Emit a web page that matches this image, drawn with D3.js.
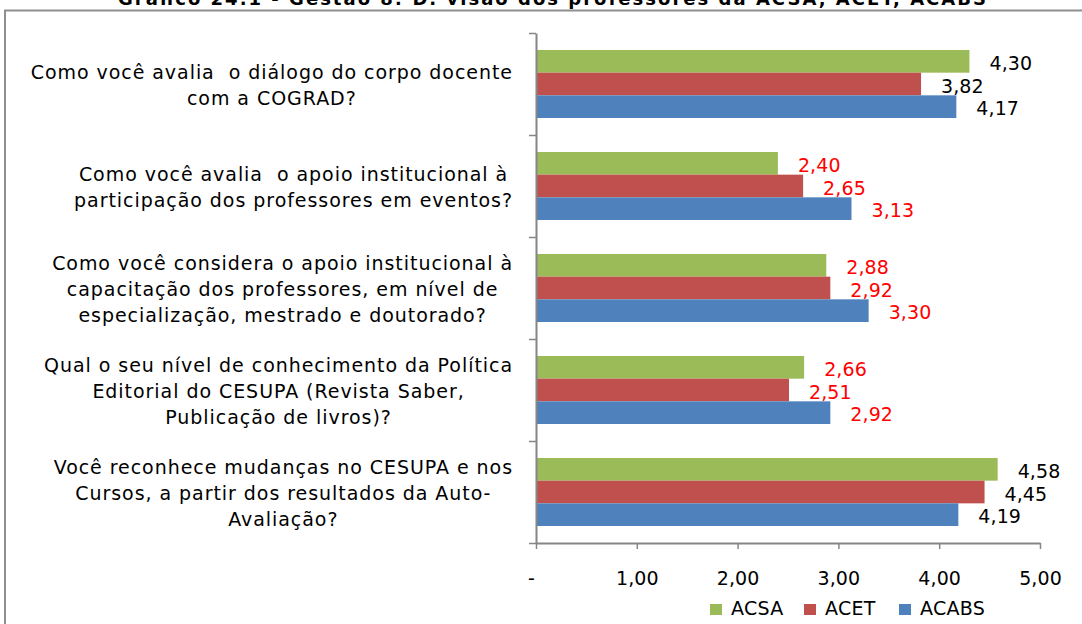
<!DOCTYPE html>
<html>
<head>
<meta charset="utf-8">
<script src="https://cdn.jsdelivr.net/npm/d3@7"></script>
<style>
  html, body { margin: 0; padding: 0; background: #fff; overflow: hidden; }
  svg { display: block; font-family: "DejaVu Sans", Verdana, sans-serif; }
</style>
</head>
<body>
<svg id="chart" width="1082" height="624"></svg>
<script>
// ---- data ----
const chartTitle = "Gráfico 24.1 - Gestão 8: D. visão dos professores da ACSA, ACET, ACABS";
const categories = [
  "Como você avalia  o diálogo do corpo docente\ncom a COGRAD?",
  "Como você avalia  o apoio institucional à\nparticipação dos professores em eventos?",
  "Como você considera o apoio institucional à\ncapacitação dos professores, em nível de\nespecialização, mestrado e doutorado?",
  "Qual o seu nível de conhecimento da Política\nEditorial do CESUPA (Revista Saber,\nPublicação de livros)?",
  "Você reconhece mudanças no CESUPA e nos\nCursos, a partir dos resultados da Auto-\nAvaliação?"
];
const seriesNames = ["ACSA", "ACET", "ACABS"];
const acsaValues  = [4.30, 2.40, 2.88, 2.66, 4.58];
const acetValues  = [3.82, 2.65, 2.92, 2.51, 4.45];
const acabsValues = [4.17, 3.13, 3.30, 2.92, 4.19];
const xTickValues = [0, 1, 2, 3, 4, 5];
const xTickLabels = ["-", "1,00", "2,00", "3,00", "4,00", "5,00"];
const highlightBelow = 3.5; // categories whose mean is below this get red labels

// ---- styles ----
const colors = { ACSA: "#9BBB59", ACET: "#C0504D", ACABS: "#4F81BD" };
const axisColor = "#868686";

const seriesValues = { ACSA: acsaValues, ACET: acetValues, ACABS: acabsValues };
const svg = d3.select("#chart");

// outer chart border
svg.append("rect")
  .attr("x", 5).attr("y", 10.5)
  .attr("width", 1200).attr("height", 800)
  .attr("fill", "none").attr("stroke", "#8e8e8e").attr("stroke-width", 2);

// title (partly cut off at top, as in the source)
svg.append("text")
  .attr("x", 118).attr("y", 5)
  .attr("font-weight", "bold").attr("font-size", 18)
  .attr("textLength", 868).attr("lengthAdjust", "spacing")
  .attr("fill", "#000")
  .text(chartTitle);

// scales
const plot = { left: 536, right: 1040, top: 33, bottom: 543 };
const x = d3.scaleLinear().domain([0, 5]).range([plot.left, plot.right]);
const y = d3.scaleBand().domain(d3.range(categories.length)).range([plot.top, plot.bottom]).paddingInner(0).paddingOuter(0);
const ySeries = d3.scaleBand().domain(seriesNames).range([0, y.bandwidth()]).paddingInner(0).paddingOuter(0.75);
const yEdge = d3.scaleLinear().domain([0, categories.length]).range([plot.top, plot.bottom]);

// bars
const groups = svg.append("g").selectAll("g")
  .data(categories.map((c, i) => i))
  .join("g")
  .attr("transform", i => `translate(0,${y(i)})`);

groups.selectAll("rect")
  .data(i => seriesNames.map(s => ({ s, v: seriesValues[s][i] })))
  .join("rect")
  .attr("x", x(0))
  .attr("y", d => ySeries(d.s))
  .attr("width", d => x(d.v) - x(0))
  .attr("height", ySeries.bandwidth())
  .attr("fill", d => colors[d.s]);

// value labels
groups.each(function(i) {
  const mean = d3.mean(seriesNames, s => seriesValues[s][i]);
  const col = mean < highlightBelow ? "#FF0000" : "#000000";
  d3.select(this).selectAll("text.val")
    .data(seriesNames.map(s => ({ s, v: seriesValues[s][i] })))
    .join("text")
    .attr("class", "val")
    .attr("x", d => x(d.v) + 20)
    .attr("y", d => ySeries(d.s) + ySeries.bandwidth() / 2 + 2)
    .attr("dy", "0.35em")
    .attr("font-size", 19)
    .attr("letter-spacing", "0.1px")
    .attr("fill", col)
    .text(d => d3.format(".2f")(d.v).replace(".", ","));
});

// y axis (ticks at category boundaries)
const yAxis = svg.append("g")
  .attr("transform", `translate(${plot.left},0)`)
  .call(d3.axisLeft(yEdge).ticks(categories.length).tickSize(7).tickSizeOuter(0).tickFormat(""));
yAxis.select(".domain").attr("stroke", axisColor).attr("stroke-width", 2);
yAxis.selectAll(".tick line").attr("stroke", axisColor).attr("stroke-width", 1.5);

// x axis
const xAxis = svg.append("g")
  .attr("transform", `translate(0,${plot.bottom})`)
  .call(d3.axisBottom(x).tickValues(xTickValues).tickSize(6).tickSizeOuter(0)
    .tickFormat((d, i) => xTickLabels[i]));
xAxis.select(".domain").attr("stroke", axisColor).attr("stroke-width", 2);
xAxis.selectAll(".tick line").attr("stroke", axisColor).attr("stroke-width", 1.5);
xAxis.selectAll(".tick text")
  .attr("y", 42).attr("dy", 0)
  .attr("font-size", 19)
  .attr("letter-spacing", "0.1px")
  .attr("font-family", "DejaVu Sans, sans-serif")
  .attr("fill", "#000")
  .attr("dx", (d, i) => i === 0 ? -5 : 0);

// category labels: lines centred, block right-aligned against the axis
const labelRight = 513;
const lineGap = 26;
categories.forEach((c, i) => {
  const lines = c.split("\n");
  const g = svg.append("g");
  const cy = y(i) + y.bandwidth() / 2 + 1.5;
  const texts = lines.map((ln, k) => g.append("text")
    .attr("y", cy + (k - (lines.length - 1) / 2) * lineGap)
    .attr("dy", "0.35em")
    .attr("font-size", 19)
    .attr("letter-spacing", "0.95px")
    .attr("fill", "#000")
    .attr("text-anchor", "middle")
    .style("white-space", "pre")
    .text(ln));
  const maxW = d3.max(texts, t => t.node().getComputedTextLength());
  texts.forEach(t => t.attr("x", labelRight - maxW / 2));
});

// legend
const legendItems = [
  { s: "ACSA", x: 710 },
  { s: "ACET", x: 804 },
  { s: "ACABS", x: 899 }
];
const lg = svg.append("g").selectAll("g").data(legendItems).join("g")
  .attr("transform", d => `translate(${d.x},604)`);
lg.append("rect").attr("width", 12).attr("height", 11).attr("fill", d => colors[d.s]);
lg.append("text").attr("x", 21).attr("y", 11).attr("font-size", 19)
  .attr("letter-spacing", "0.3px").attr("fill", "#000").text(d => d.s);
</script>
</body>
</html>
